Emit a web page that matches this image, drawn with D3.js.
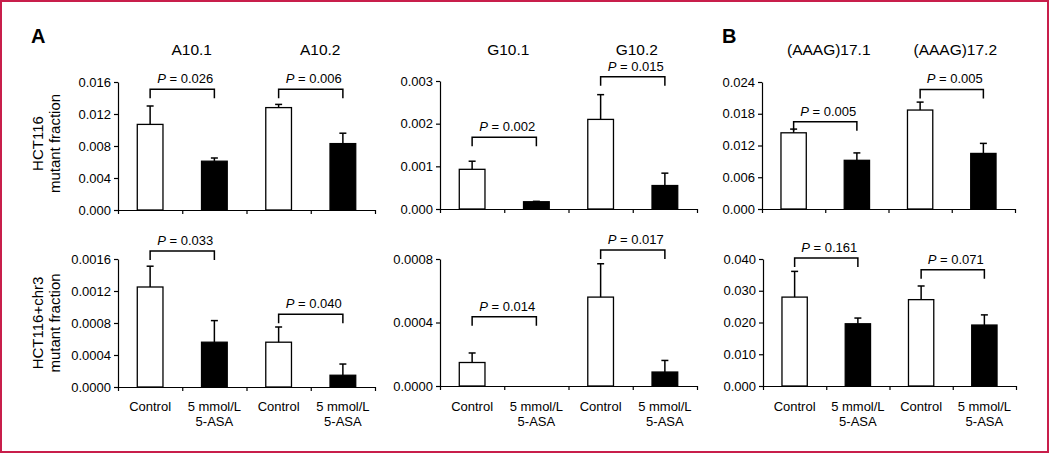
<!DOCTYPE html>
<html><head><meta charset="utf-8">
<script src="https://cdn.jsdelivr.net/npm/d3@7"></script>
<style>
body{margin:0;background:#fff}
svg{display:block}
text{font-family:Arial,"Liberation Sans",sans-serif;fill:#000}
</style>
</head><body>
<svg id="c" width="1050" height="454"></svg>
<script>
// ---- data ----
const treatments = ["Control", "5 mmol/L|5-ASA", "Control", "5 mmol/L|5-ASA"];
const markersA = ["A10.1", "A10.2"];
const markersG = ["G10.1", "G10.2"];
const markersB = ["(AAAG)17.1", "(AAAG)17.2"];
const rowLabels = [["HCT116", "mutant fraction"], ["HCT116+chr3", "mutant fraction"]];
const panelLetters = ["A", "B"];

// HCT116
const hctA_mean = [0.0107, 0.0061, 0.0128, 0.0083];
const hctA_sd   = [0.0023, 0.0004, 0.0004, 0.0013];
const hctA_p    = ["0.026", "0.006"];
const hctA_br   = [0.0151, 0.0151];
const hctA_ticks = [0, 0.004, 0.008, 0.012, 0.016];

const hctG_mean = [0.00093, 0.00017, 0.0021, 0.00055];
const hctG_sd   = [0.00019, 0.00001, 0.00058, 0.00029];
const hctG_p    = ["0.002", "0.015"];
const hctG_br   = [0.00168, 0.0031];
const hctG_ticks = [0, 0.001, 0.002, 0.003];

const hctB_mean = [0.0144, 0.0092, 0.0187, 0.0105];
const hctB_sd   = [0.0007, 0.0014, 0.0015, 0.0019];
const hctB_p    = ["0.005", "0.005"];
const hctB_br   = [0.0165, 0.0226];
const hctB_ticks = [0, 0.006, 0.012, 0.018, 0.024];

// HCT116+chr3
const chrA_mean = [0.00125, 0.00056, 0.00056, 0.000147];
const chrA_sd   = [0.00026, 0.00027, 0.00019, 0.00014];
const chrA_p    = ["0.033", "0.040"];
const chrA_br   = [0.0017, 0.00091];
const chrA_ticks = [0, 0.0004, 0.0008, 0.0012, 0.0016];

const chrG_mean = [0.000148, 0, 0.00056, 0.000088];
const chrG_sd   = [0.00006, 0, 0.00021, 0.000073];
const chrG_p    = ["0.014", "0.017"];
const chrG_br   = [0.000437, 0.000857];
const chrG_ticks = [0, 0.0004, 0.0008];

const chrB_mean = [0.0280, 0.0196, 0.0272, 0.0192];
const chrB_sd   = [0.0081, 0.0018, 0.0043, 0.0032];
const chrB_p    = ["0.161", "0.071"];
const chrB_br   = [0.0403, 0.0366];
const chrB_ticks = [0, 0.010, 0.020, 0.030, 0.040];

// ---- layout ----
const panels = [
  {x0:118, x1:375, yT:82,  yB:210, markers:markersA, mean:hctA_mean, sd:hctA_sd, p:hctA_p, br:hctA_br, ticks:hctA_ticks, fmt:".3f", tdx:9.5, row:0},
  {x0:440, x1:697, yT:81,  yB:209, markers:markersG, mean:hctG_mean, sd:hctG_sd, p:hctG_p, br:hctG_br, ticks:hctG_ticks, fmt:".3f", tdx:4,   row:0},
  {x0:762, x1:1015,yT:82,  yB:209, markers:markersB, mean:hctB_mean, sd:hctB_sd, p:hctB_p, br:hctB_br, ticks:hctB_ticks, fmt:".3f", tdx:3.5, row:0},
  {x0:118, x1:375, yT:259, yB:387, markers:markersA, mean:chrA_mean, sd:chrA_sd, p:chrA_p, br:chrA_br, ticks:chrA_ticks, fmt:".4f", tdx:0,   row:1},
  {x0:440, x1:697, yT:259, yB:386, markers:markersG, mean:chrG_mean, sd:chrG_sd, p:chrG_p, br:chrG_br, ticks:chrG_ticks, fmt:".4f", tdx:0,   row:1},
  {x0:763, x1:1016,yT:259, yB:386, markers:markersB, mean:chrB_mean, sd:chrB_sd, p:chrB_p, br:chrB_br, ticks:chrB_ticks, fmt:".3f", tdx:0,   row:1}
];

const svg = d3.select("#c");

// frame
svg.append("rect").attr("x",1).attr("y",1).attr("width",1047).attr("height",451)
  .attr("fill","none").attr("stroke","#c81e4b").attr("stroke-width",2);

// panel letters
svg.append("text").attr("x",31).attr("y",43).attr("font-size",20).attr("font-weight","bold").text(panelLetters[0]);
svg.append("text").attr("x",722).attr("y",43).attr("font-size",20).attr("font-weight","bold").text(panelLetters[1]);

// row labels
const rowCenters = [143.5, 323];
rowLabels.forEach((lines, r) => {
  const g = svg.append("g").attr("transform", `translate(0,${rowCenters[r]}) rotate(-90)`);
  g.append("text").attr("x",0).attr("y",42.5).attr("text-anchor","middle").attr("font-size",15).text(lines[0]);
  g.append("text").attr("x",0).attr("y",60).attr("text-anchor","middle").attr("font-size",15).text(lines[1]);
});

panels.forEach(P => {
  const x = d3.scaleBand().domain(d3.range(4)).range([P.x0, P.x1]).paddingInner(0).paddingOuter(0);
  const y = d3.scaleLinear().domain([0, P.ticks[P.ticks.length-1]]).range([P.yB, P.yT]);
  const bw = x.bandwidth() * 0.4;
  const cx = i => x(i) + x.bandwidth()/2;
  const g = svg.append("g");

  // y axis
  const ya = g.append("g").attr("transform", `translate(${P.x0},0)`)
    .call(d3.axisLeft(y).tickValues(P.ticks).tickFormat(d3.format(P.fmt)).tickSize(4).tickSizeOuter(0).tickPadding(3));
  ya.selectAll("text").attr("font-size",13).attr("font-family","Arial, 'Liberation Sans', sans-serif").attr("fill","#000");
  ya.selectAll("line,path").attr("stroke","#000").attr("stroke-width",1.2);

  // x axis
  const xl = d3.scaleLinear().domain([0,4]).range([P.x0, P.x1]);
  const xa = g.append("g").attr("transform", `translate(0,${P.yB})`)
    .call(d3.axisBottom(xl).tickValues([0,1,2,3,4]).tickFormat("").tickSize(4).tickSizeOuter(0));
  xa.selectAll("line,path").attr("stroke","#000").attr("stroke-width",1.2);

  // bars
  P.mean.forEach((m, i) => {
    if (m <= 0) return;
    g.append("rect").attr("x", cx(i) - bw/2).attr("y", y(m)).attr("width", bw).attr("height", P.yB - y(m))
      .attr("fill", i % 2 === 0 ? "#fff" : "#000").attr("stroke","#000").attr("stroke-width",1.3);
    if (P.sd[i] > 0) {
      const yt = y(m + P.sd[i]);
      g.append("line").attr("x1",cx(i)).attr("x2",cx(i)).attr("y1",y(m)).attr("y2",yt).attr("stroke","#000").attr("stroke-width",1.5);
      g.append("line").attr("x1",cx(i)-3.5).attr("x2",cx(i)+3.5).attr("y1",yt).attr("y2",yt).attr("stroke","#000").attr("stroke-width",1.5);
    }
  });

  // brackets + p values
  P.p.forEach((pv, k) => {
    const lx = cx(2*k), rx = cx(2*k+1), by = y(P.br[k]);
    g.append("path").attr("d", `M${lx},${by+9}V${by}H${rx}V${by+9}`)
      .attr("fill","none").attr("stroke","#000").attr("stroke-width",1.5);
    const t = g.append("text").attr("x",(lx+rx)/2 + 3).attr("y",by - 6).attr("text-anchor","middle").attr("font-size",13);
    t.append("tspan").attr("font-style","italic").text("P");
    t.append("tspan").text(" = " + pv);
  });

  // titles (top row)
  if (P.row === 0) {
    P.markers.forEach((mk, k) => {
      g.append("text").attr("x",(cx(2*k)+cx(2*k+1))/2 + P.tdx).attr("y",55)
        .attr("text-anchor","middle").attr("font-size",15.5).text(mk);
    });
  }
  // category labels (bottom row)
  if (P.row === 1) {
    treatments.forEach((tr, i) => {
      const parts = tr.split("|");
      parts.forEach((s, j) => {
        g.append("text").attr("x",cx(i)).attr("y",410.5 + j*15).attr("text-anchor","middle").attr("font-size",13).text(s);
      });
    });
  }
});
</script>
</body></html>
